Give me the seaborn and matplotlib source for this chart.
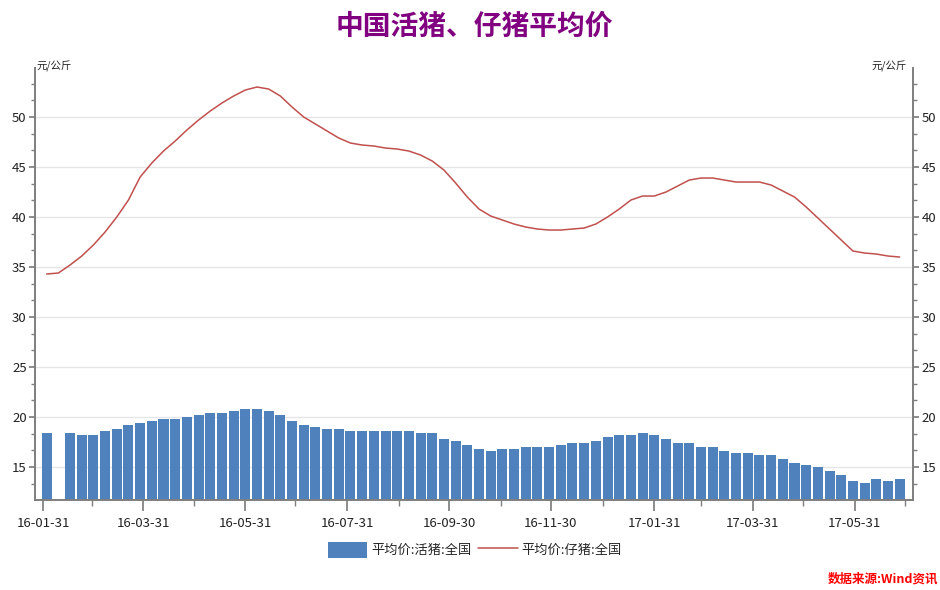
import numpy as np
import pandas as pd
import matplotlib
matplotlib.use("Agg")
import matplotlib.pyplot as plt
import matplotlib.dates as mdates
import matplotlib.ticker as mticker
import seaborn as sns

# weekly data, 2016-02-02 .. 2017-06-27 (one missing week for 活猪 around Spring Festival)
week_start = "2016-02-02"
n_weeks = 74

hog_price = [
    18.44, np.nan, 18.44, 18.24, 18.24, 18.64, 18.84, 19.24, 19.44, 19.64,
    19.84, 19.84, 20.04, 20.24, 20.44, 20.44, 20.64, 20.84, 20.84, 20.64,
    20.24, 19.64, 19.24, 19.04, 18.84, 18.84, 18.64, 18.64, 18.64, 18.64,
    18.64, 18.64, 18.44, 18.44, 17.84, 17.64, 17.24, 16.84, 16.64, 16.84,
    16.84, 17.04, 17.04, 17.04, 17.24, 17.44, 17.44, 17.64, 18.04, 18.24,
    18.24, 18.44, 18.24, 17.84, 17.44, 17.44, 17.04, 17.04, 16.64, 16.44,
    16.44, 16.24, 16.24, 15.84, 15.44, 15.24, 15.04, 14.64, 14.24, 13.64,
    13.44, 13.84, 13.64, 13.84,
]

piglet_price = [
    34.3, 34.4, 35.2, 36.1, 37.2, 38.5, 40.0, 41.7, 44.0, 45.4,
    46.6, 47.6, 48.7, 49.7, 50.6, 51.4, 52.1, 52.7, 53.0, 52.8,
    52.1, 51.0, 50.0, 49.3, 48.6, 47.9, 47.4, 47.2, 47.1, 46.9,
    46.8, 46.6, 46.2, 45.6, 44.7, 43.4, 42.0, 40.8, 40.1, 39.7,
    39.3, 39.0, 38.8, 38.7, 38.7, 38.8, 38.9, 39.3, 40.0, 40.8,
    41.7, 42.1, 42.1, 42.5, 43.1, 43.7, 43.9, 43.9, 43.7, 43.5,
    43.5, 43.5, 43.2, 42.6, 42.0, 41.0, 39.9, 38.8, 37.7, 36.6,
    36.4, 36.3, 36.1, 36.0,
]

title = "中国活猪、仔猪平均价"
hog_label = "平均价:活猪:全国"
piglet_label = "平均价:仔猪:全国"
unit = "元/公斤"
source = "数据来源:Wind资讯"

bar_color = "#4F81BD"
line_color = "#C0504D"

df = pd.DataFrame({
    "date": pd.date_range(week_start, periods=n_weeks, freq="7D"),
    "hog": hog_price,
    "piglet": piglet_price,
})

sns.set_theme(style="ticks")
plt.rcParams["font.family"] = ["Noto Sans CJK SC", "DejaVu Sans"]
plt.rcParams["axes.unicode_minus"] = False

fig = plt.figure(figsize=(9.4, 5.9), dpi=100)
ax = fig.add_axes([0.0372, 0.1525, 0.9341, 0.7322])

d = df.dropna(subset=["hog"])
ax.bar(d["date"], d["hog"], width=6.0, color=bar_color, edgecolor="none",
       label=hog_label, zorder=2)

ax2 = ax.twinx()
sns.lineplot(data=df, x="date", y="piglet", ax=ax2, color=line_color,
             linewidth=1.1, label=piglet_label, legend=False)

ylim = (11.7, 54.9)
for a in (ax, ax2):
    a.set_ylim(*ylim)
    a.yaxis.set_major_locator(mticker.MultipleLocator(5))
    a.yaxis.set_minor_locator(mticker.MultipleLocator(5 / 3))
    a.set_ylabel("")
    a.set_xlabel("")
    for s in a.spines.values():
        s.set_color("#7f7f7f")
    a.spines["top"].set_visible(False)
    a.tick_params(axis="y", which="major", length=4, color="#7f7f7f",
                  labelsize=9.5, pad=2, labelcolor="#222222")
    a.tick_params(axis="y", which="minor", length=3, color="#7f7f7f")

ax.set_xlim(pd.Timestamp("2016-01-26"), pd.Timestamp("2017-07-05"))
major_ticks = pd.date_range("2016-01-31", "2017-05-31", freq="2ME")
minor_ticks = pd.date_range("2016-01-31", "2017-06-30", freq="ME")
ax.set_xticks(major_ticks)
ax.set_xticks(minor_ticks, minor=True)
ax.xaxis.set_major_formatter(mdates.DateFormatter("%y-%m-%d"))
ax.tick_params(axis="x", which="major", length=8, color="#7f7f7f",
               labelsize=9.5, pad=4, labelcolor="#222222")
ax.tick_params(axis="x", which="minor", length=4, color="#7f7f7f")

ax.grid(axis="y", which="major", color="#e6e6e6", linewidth=1, zorder=0)
ax.set_axisbelow(True)

fig.text(0.505, 0.955, title, ha="center", va="center", fontsize=20,
         fontweight="bold", color="#800080")
fig.text(0.039, 0.888, unit, ha="left", va="center", fontsize=7.5, color="#222222")
fig.text(0.965, 0.888, unit, ha="right", va="center", fontsize=7.5, color="#222222")

h1, l1 = ax.get_legend_handles_labels()
h2, l2 = ax2.get_legend_handles_labels()
fig.legend(h1 + h2, l1 + l2, loc="center", bbox_to_anchor=(0.505, 0.068),
           ncol=2, frameon=False, fontsize=9.5, handlelength=3.0,
           handleheight=1.5, columnspacing=0.5, handletextpad=0.3)

fig.text(0.998, 0.018, source, ha="right", va="center", fontsize=9,
         color="#ff0000", style="italic", fontweight="bold")

fig.savefig("out.png", dpi=100)
